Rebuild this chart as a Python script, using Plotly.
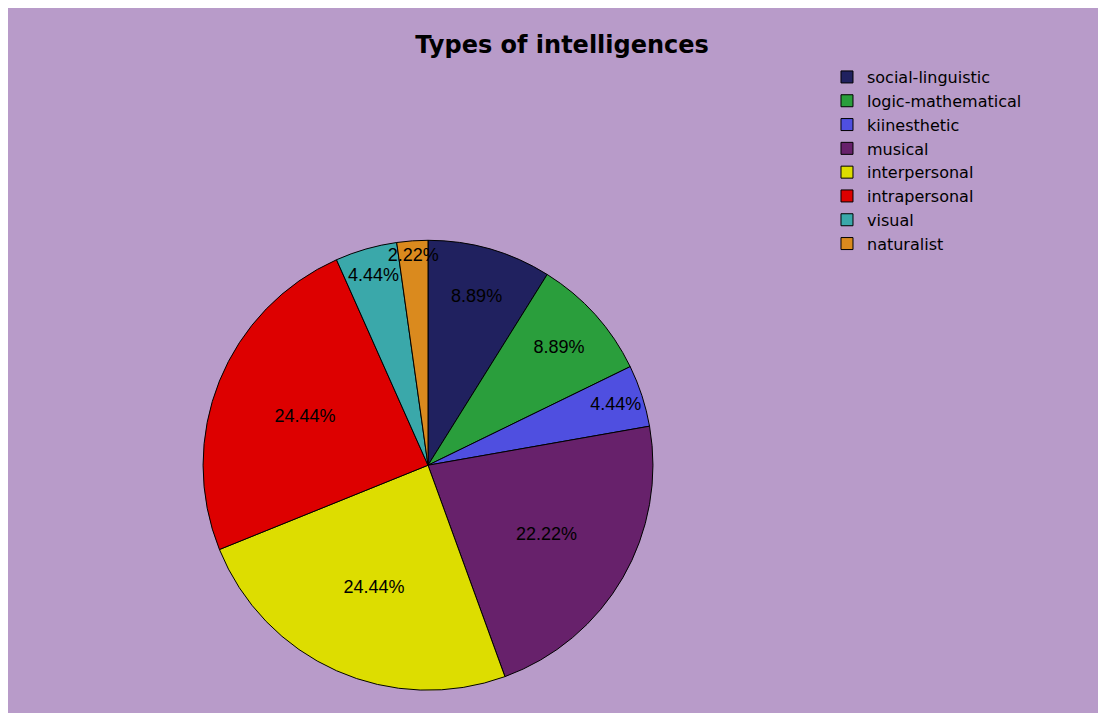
import plotly.graph_objects as go

categories = ["social-linguistic", "logic-mathematical", "kiinesthetic", "musical",
              "interpersonal", "intrapersonal", "visual", "naturalist"]
counts = [4, 4, 2, 10, 11, 11, 2, 1]
colors = ["#20215F", "#2A9E3C", "#4F4FE0", "#67216B",
          "#DDDD00", "#DD0000", "#3AA8AA", "#DA8A1E"]

fig = go.Figure(go.Pie(
    labels=categories,
    values=counts,
    sort=False,
    direction="clockwise",
    rotation=0,
    marker=dict(colors=colors, line=dict(color="#000000", width=1)),
    texttemplate="%{percent:.2%}",
    textposition="inside",
    insidetextorientation="horizontal",
    textfont=dict(family="Liberation Sans, Arial, sans-serif", size=18, color="#000000"),
    domain=dict(x=[0.1763, 0.5832], y=[0.0432, 0.6742]),
    hoverinfo="label+percent",
))

fig.update_layout(
    width=1106, height=713,
    margin=dict(l=0, r=0, t=0, b=0),
    paper_bgcolor="#B89BC9",
    plot_bgcolor="#B89BC9",
    title=dict(text="<b>Types of intelligences</b>", x=0.501, y=0.948,
               xanchor="center", yanchor="middle",
               font=dict(family="DejaVu Sans, sans-serif", size=24, color="#000000")),
    legend=dict(x=0.7405, y=0.927, xanchor="left", yanchor="top",
                bgcolor="rgba(0,0,0,0)",
                font=dict(family="DejaVu Sans, sans-serif", size=16, color="#000000"),
                traceorder="normal"),
    uniformtext=dict(minsize=18, mode="show"),
    showlegend=True,
)

fig.write_html("out.html")
